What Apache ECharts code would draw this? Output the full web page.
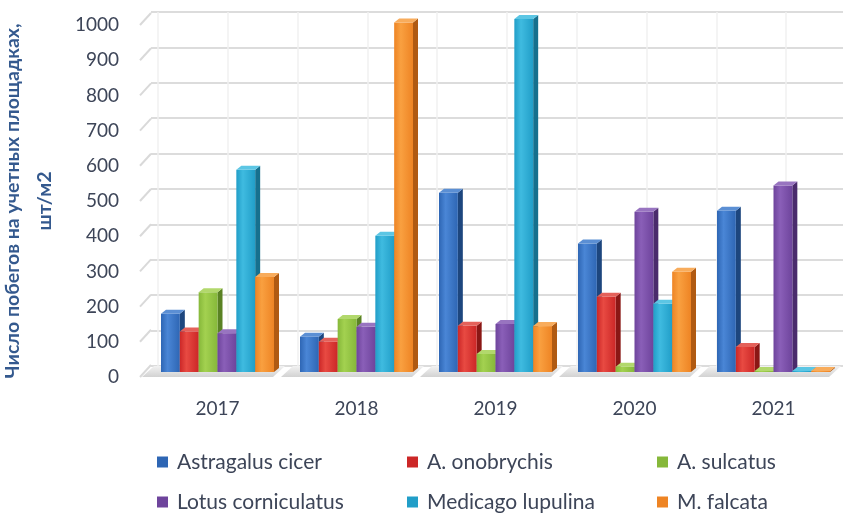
<!DOCTYPE html>
<html>
<head>
<meta charset="utf-8">
<script src="https://cdn.jsdelivr.net/npm/echarts@6/dist/echarts.min.js"></script>
<style>
  html, body { margin: 0; padding: 0; background: #ffffff; }
  #chart { width: 850px; height: 517px; }
</style>
</head>
<body>
<div id="chart"></div>
<script>
// Years on the category axis
const years = ['2017', '2018', '2019', '2020', '2021'];

// Shoots per plot, pcs/m2, one array per species
const astragalusCicer = [165, 100, 508, 364, 457];
const aOnobrychis = [115, 86, 131, 213, 71];
const aSulcatus = [226, 150, 51, 15, 3];
const lotusCorniculatus = [110, 128, 136, 454, 528];
const medicagoLupulina = [573, 386, 1000, 193, 3];
const mFalcata = [269, 990, 130, 284, 3];

// Value-axis ticks
const yTicks = [0, 100, 200, 300, 400, 500, 600, 700, 800, 900, 1000];

const seriesNames = ['Astragalus cicer', 'A. onobrychis', 'A. sulcatus',
  'Lotus corniculatus', 'Medicago lupulina', 'M. falcata'];
const seriesValues = [astragalusCicer, aOnobrychis, aSulcatus,
  lotusCorniculatus, medicagoLupulina, mFalcata];

// front / light / side / top shades for each species
const shades = [
  { base: '#2e66b4', light: '#4a86d6', side: '#1d467e', top: '#5b8fd4' },
  { base: '#cc2727', light: '#e84a42', side: '#8a1715', top: '#e4615a' },
  { base: '#86b83a', light: '#a3d150', side: '#5a8224', top: '#b2d86c' },
  { base: '#6e449c', light: '#8a5fb8', side: '#4a2b6c', top: '#9874c0' },
  { base: '#219ec8', light: '#3fbbe0', side: '#16708e', top: '#5cc6e4' },
  { base: '#ee8424', light: '#f9a040', side: '#b05a12', top: '#f8ac5c' }
];

const DX = 5, DY = 4;          // depth offset of the bar prisms
const GROUP_FRACTION = 113 / 139;

function barRenderer(sIdx) {
  const c = shades[sIdx];
  return function (params, api) {
    const cat = api.value(0);
    const val = api.value(1);
    const base = api.coord([cat, 0]);
    const top = api.coord([cat, val]);
    const band = api.size([1, 0])[0];
    const groupW = band * GROUP_FRACTION;
    const bw = groupW / 6;
    const x = base[0] - groupW / 2 + sIdx * bw;
    const yT = top[1], yB = base[1];
    return {
      type: 'group',
      children: [
        {
          type: 'polygon',
          shape: { points: [[x + bw, yT], [x + bw + DX, yT - DY], [x + bw + DX, yB - DY], [x + bw, yB]] },
          style: { fill: c.side }
        },
        {
          type: 'rect',
          shape: { x: x, y: yT, width: bw, height: yB - yT },
          style: {
            fill: new echarts.graphic.LinearGradient(0, 0, 1, 0, [
              { offset: 0, color: c.base },
              { offset: 0.35, color: c.light },
              { offset: 1, color: c.base }
            ])
          }
        },
        {
          type: 'polygon',
          shape: { points: [[x, yT], [x + DX, yT - DY], [x + bw + DX, yT - DY], [x + bw, yT]] },
          style: { fill: c.top }
        }
      ]
    };
  };
}

const barSeries = seriesNames.map((name, i) => ({
  name: name,
  type: 'custom',
  xAxisIndex: 1,
  yAxisIndex: 1,
  z: 10,
  itemStyle: { color: shades[i].base },
  renderItem: barRenderer(i),
  encode: { x: 0, y: 1 },
  data: seriesValues[i].map((v, k) => [k, v])
}));

// floor slab under every year group
const floorSeries = {
  type: 'custom',
  xAxisIndex: 1,
  yAxisIndex: 1,
  z: 5,
  silent: true,
  renderItem: function (params, api) {
    const cat = api.value(0);
    const base = api.coord([cat, 0]);
    const band = api.size([1, 0])[0];
    const x0 = base[0] - band / 2 - 6;
    const x1 = base[0] + band / 2 - 14;
    const y = base[1];
    return {
      type: 'polygon',
      shape: { points: [[x0, y + 5], [x1, y + 5], [x1 + 12, y - 6], [x0 + 12, y - 6]] },
      style: {
        fill: new echarts.graphic.LinearGradient(0, 1, 0, 0, [
          { offset: 0, color: '#d2d2d2' },
          { offset: 1, color: '#f2f2f2' }
        ])
      }
    };
  },
  encode: { x: 0, y: 1 },
  data: years.map((y, k) => [k, 0])
};

// short slanted lines on the left side wall, one per tick
const wallSeries = {
  type: 'custom',
  xAxisIndex: 0,
  yAxisIndex: 0,
  z: 2,
  silent: true,
  renderItem: function (params, api) {
    const p = api.coord([0, api.value(1)]);
    const x = params.coordSys.x;
    return {
      type: 'line',
      shape: { x1: x, y1: p[1], x2: x + 11, y2: p[1] - 12 },
      style: { stroke: '#d9d9d9', lineWidth: 2 }
    };
  },
  encode: { x: 0, y: 1 },
  data: yTicks.map(v => [0, v])
};

const textColor = '#3d4558';

function columnLegend(left, names) {
  return {
    orient: 'vertical',
    left: left,
    top: 451,
    height: 66,
    padding: 0,
    itemWidth: 11,
    itemHeight: 11,
    itemGap: 18,
    icon: 'rect',
    data: names,
    textStyle: { fontFamily: 'Lato', fontSize: 21, color: textColor, lineHeight: 22, padding: [0, 0, 0, 4] }
  };
}

const noBounds = { outerBoundsMode: 'none', containLabel: false };

const option = {
  animation: false,
  backgroundColor: '#ffffff',
  color: shades.map(s => s.base),
  grid: [
    // front axis (tick labels, wall lines)
    Object.assign({ left: 140, right: 7, top: 25, bottom: 140 }, noBounds),
    // bars
    Object.assign({ left: 148, right: 7, top: 19, bottom: 145 }, noBounds),
    // back wall horizontal grid lines
    Object.assign({ left: 151, right: 7, top: 12, bottom: 151 }, noBounds),
    // back wall vertical grid lines
    Object.assign({ left: 158, right: -6, top: 12, bottom: 151 }, noBounds)
  ],
  xAxis: [
    { gridIndex: 0, type: 'category', data: years, show: false },
    {
      gridIndex: 1, type: 'category', data: years,
      axisLine: { show: false }, axisTick: { show: false },
      axisLabel: { margin: 27, fontFamily: 'Lato', fontSize: 19, color: textColor }
    },
    { gridIndex: 2, type: 'category', data: years, show: false },
    {
      gridIndex: 3, type: 'value', min: 0, max: 10, interval: 1,
      axisLine: { show: false }, axisTick: { show: false }, axisLabel: { show: false },
      splitLine: { show: true, lineStyle: { color: '#f1f1f1', width: 1.5 } }
    }
  ],
  yAxis: [
    {
      gridIndex: 0, type: 'value', min: 0, max: 1000, interval: 100,
      axisLine: { show: false }, axisTick: { show: false },
      splitLine: { show: false },
      axisLabel: {
        margin: 21, fontFamily: 'Lato', fontSize: 19, color: textColor,
        formatter: v => String(v)
      },
      name: 'Число побегов на учетных площадках,\nшт/м2',
      nameLocation: 'middle',
      nameGap: 79,
      nameRotate: 90,
      nameTextStyle: {
        fontFamily: 'Lato', fontSize: 19.5, fontWeight: 'bold', color: '#34598e',
        lineHeight: 32, align: 'center'
      }
    },
    { gridIndex: 1, type: 'value', min: 0, max: 1000, interval: 100, show: false },
    {
      gridIndex: 2, type: 'value', min: 0, max: 1000, interval: 100,
      axisLine: { show: false }, axisTick: { show: false }, axisLabel: { show: false },
      splitLine: { show: true, lineStyle: { color: '#dcdcdc', width: 2 } }
    },
    { gridIndex: 3, type: 'value', min: 0, max: 1000, show: false }
  ],
  legend: [
    columnLegend(157, [seriesNames[0], seriesNames[3]]),
    columnLegend(407, [seriesNames[1], seriesNames[4]]),
    columnLegend(657, [seriesNames[2], seriesNames[5]])
  ],
  series: [wallSeries, floorSeries].concat(barSeries)
};

const chart = echarts.init(document.getElementById('chart'), null, { renderer: 'canvas' });
chart.setOption(option);
</script>
</body>
</html>
